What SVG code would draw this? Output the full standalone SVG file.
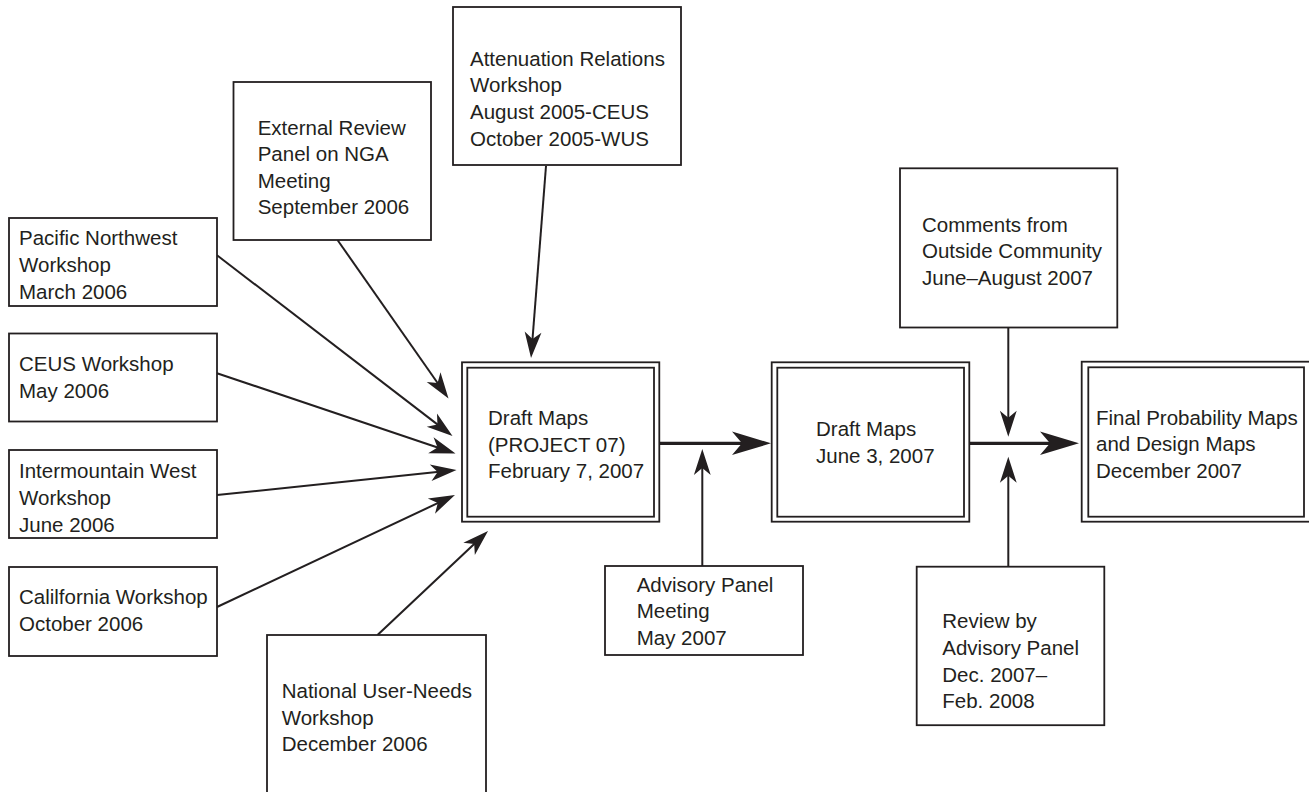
<svg xmlns="http://www.w3.org/2000/svg" width="1309" height="792" viewBox="0 0 1309 792">
<style>
  .box { fill: #ffffff; stroke: #231f20; stroke-width: 1.8; }
  .lbl { font-family: "Liberation Sans", Arial, sans-serif; font-size: 20.5px; fill: #231f20; }
  .thin { stroke: #231f20; stroke-width: 2; fill: none; marker-end: url(#headThin); }
  .thick { stroke: #231f20; stroke-width: 3.2; fill: none; marker-end: url(#headThick); }
</style>
<defs>
  <marker id="headThin" markerUnits="userSpaceOnUse" viewBox="-28 -10 30 20" refX="-15" refY="0" markerWidth="30" markerHeight="20" orient="auto">
    <path d="M0,0 L-26,-8.4 L-19,0 L-26,8.4 Z" fill="#231f20"/>
  </marker>
  <marker id="headThick" markerUnits="userSpaceOnUse" viewBox="-41 -13 43 26" refX="-20" refY="0" markerWidth="43" markerHeight="26" orient="auto">
    <path d="M0,0 L-39,-11.7 L-29,0 L-39,11.7 Z" fill="#231f20"/>
  </marker>
</defs>
<rect x="0" y="0" width="1309" height="792" fill="#ffffff"/>

<g id="connectors">
  <line class="thin" x1="546" y1="166" x2="532.2" y2="343.0"/>
  <line class="thin" x1="337.5" y1="240" x2="439.9" y2="386.2"/>
  <line class="thin" x1="217" y1="255.2" x2="440.6" y2="426.9"/>
  <line class="thin" x1="217" y1="373.2" x2="441.3" y2="448.7"/>
  <line class="thin" x1="217" y1="495.1" x2="441.6" y2="471.6"/>
  <line class="thin" x1="217" y1="607" x2="441.4" y2="501.4"/>
  <line class="thin" x1="377.5" y1="635" x2="477.1" y2="541.3"/>
  <line class="thin" x1="702.3" y1="566" x2="702.3" y2="464"/>
  <line class="thin" x1="1008.3" y1="327.5" x2="1008.3" y2="421.7"/>
  <line class="thin" x1="1008.3" y1="566.7" x2="1008.3" y2="471.7"/>
  <line class="thick" x1="659.3" y1="443.3" x2="751" y2="443.3"/>
  <line class="thick" x1="969.3" y1="443.3" x2="1059" y2="443.3"/>
</g>

<g id="attenuation">
  <rect class="box" x="453" y="7" width="228" height="158"/>
  <text class="lbl" x="470" y="65.7">Attenuation Relations</text>
  <text class="lbl" x="470" y="92.3">Workshop</text>
  <text class="lbl" x="470" y="119">August 2005-CEUS</text>
  <text class="lbl" x="470" y="145.6">October 2005-WUS</text>
</g>

<g id="external-review">
  <rect class="box" x="233.5" y="82" width="197.5" height="158"/>
  <text class="lbl" x="257.7" y="134.5">External Review</text>
  <text class="lbl" x="257.7" y="161">Panel on NGA</text>
  <text class="lbl" x="257.7" y="187.5">Meeting</text>
  <text class="lbl" x="257.7" y="214">September 2006</text>
</g>

<g id="pacific-northwest">
  <rect class="box" x="9" y="218" width="208" height="88"/>
  <text class="lbl" x="19" y="244.5">Pacific Northwest</text>
  <text class="lbl" x="19" y="271.5">Workshop</text>
  <text class="lbl" x="19" y="298.5">March 2006</text>
</g>

<g id="ceus">
  <rect class="box" x="9" y="333.5" width="208" height="88"/>
  <text class="lbl" x="19" y="371">CEUS Workshop</text>
  <text class="lbl" x="19" y="398">May 2006</text>
</g>

<g id="intermountain">
  <rect class="box" x="9" y="450" width="208" height="88"/>
  <text class="lbl" x="19" y="478.3">Intermountain West</text>
  <text class="lbl" x="19" y="505">Workshop</text>
  <text class="lbl" x="19" y="531.7">June 2006</text>
</g>

<g id="california">
  <rect class="box" x="9" y="567" width="208" height="89"/>
  <text class="lbl" x="19" y="604">Calilfornia Workshop</text>
  <text class="lbl" x="19" y="631">October 2006</text>
</g>

<g id="national">
  <rect class="box" x="267" y="635" width="219" height="200"/>
  <text class="lbl" x="281.7" y="698.3">National User-Needs</text>
  <text class="lbl" x="281.7" y="724.5">Workshop</text>
  <text class="lbl" x="281.7" y="751">December 2006</text>
</g>

<g id="draft-project07">
  <rect class="box" x="462" y="362.3" width="197.3" height="159.4"/>
  <rect class="box" x="467.3" y="367.7" width="186.7" height="149"/>
  <text class="lbl" x="488" y="425">Draft Maps</text>
  <text class="lbl" x="488" y="451.7">(PROJECT 07)</text>
  <text class="lbl" x="488" y="478.3">February 7, 2007</text>
</g>

<g id="advisory-meeting">
  <rect class="box" x="605" y="566" width="198" height="89"/>
  <text class="lbl" x="636.7" y="591.7">Advisory Panel</text>
  <text class="lbl" x="636.7" y="618.3">Meeting</text>
  <text class="lbl" x="636.7" y="645">May 2007</text>
</g>

<g id="draft-june">
  <rect class="box" x="771.7" y="362.3" width="197.6" height="159.4"/>
  <rect class="box" x="777.3" y="367.7" width="186.7" height="149"/>
  <text class="lbl" x="816" y="436">Draft Maps</text>
  <text class="lbl" x="816" y="462.7">June 3, 2007</text>
</g>

<g id="comments">
  <rect class="box" x="900" y="168.3" width="217.3" height="159.2"/>
  <text class="lbl" x="922" y="231.5">Comments from</text>
  <text class="lbl" x="922" y="258">Outside Community</text>
  <text class="lbl" x="922" y="284.7">June–August 2007</text>
</g>

<g id="review">
  <rect class="box" x="916.7" y="566.7" width="187.6" height="158.5"/>
  <text class="lbl" x="942.3" y="628.3">Review by</text>
  <text class="lbl" x="942.3" y="655">Advisory Panel</text>
  <text class="lbl" x="942.3" y="681.7">Dec. 2007–</text>
  <text class="lbl" x="942.3" y="708.3">Feb. 2008</text>
</g>

<g id="final">
  <rect class="box" x="1081.7" y="361.7" width="240" height="160"/>
  <rect class="box" x="1088.3" y="367.3" width="215.7" height="149.4"/>
  <text class="lbl" x="1096" y="424.5">Final Probability Maps</text>
  <text class="lbl" x="1096" y="451.2">and Design Maps</text>
  <text class="lbl" x="1096" y="478">December 2007</text>
</g>
</svg>
